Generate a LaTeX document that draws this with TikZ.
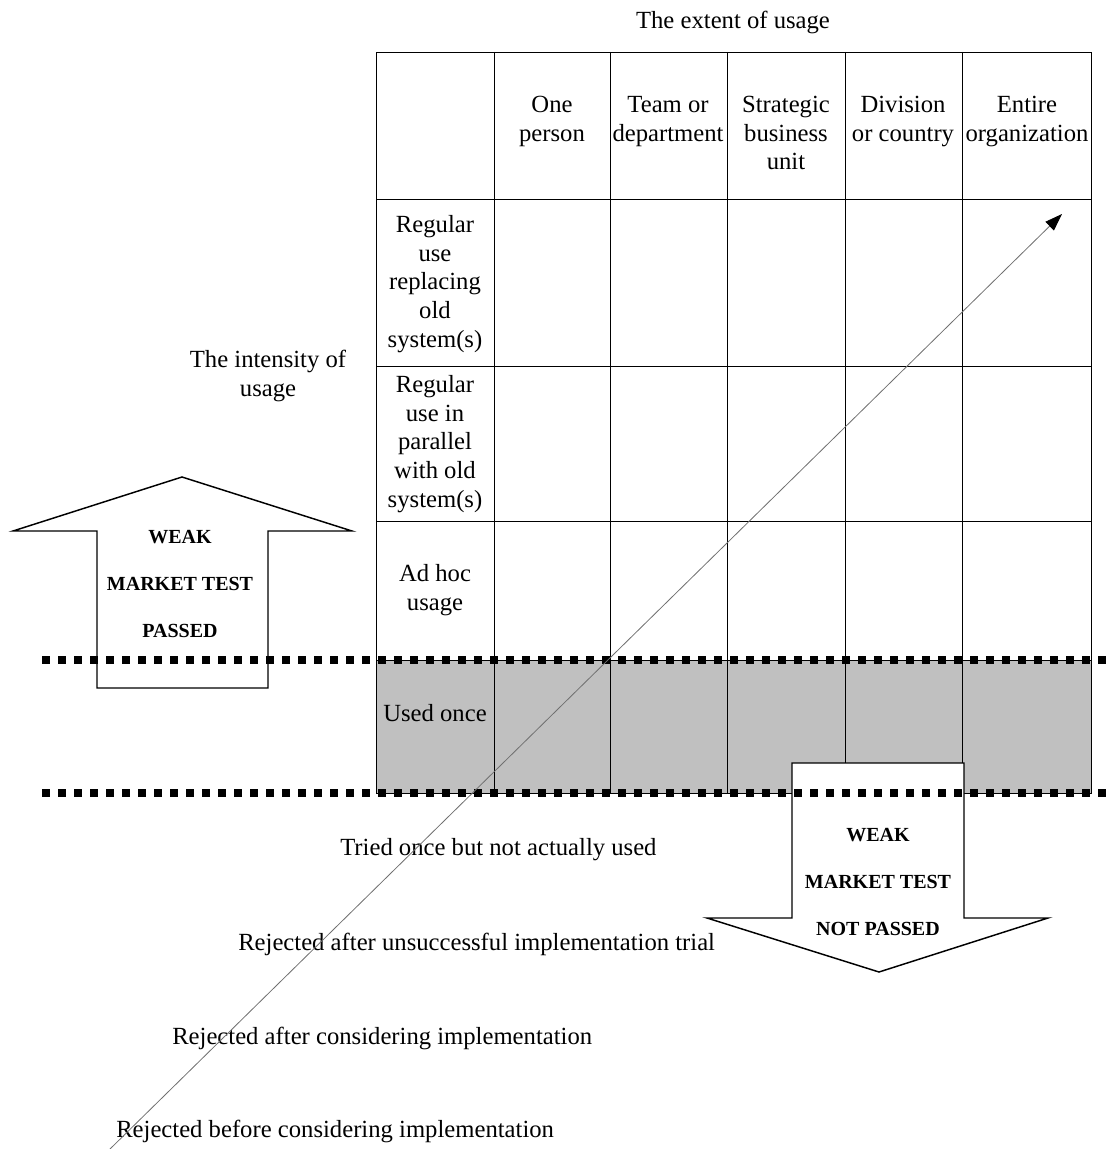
\documentclass[tikz,border=0pt]{standalone}
\usepackage{fontspec}
\setmainfont{Liberation Serif}
\usetikzlibrary{arrows.meta}
\definecolor{adpInk}{HTML}{000000}
\definecolor{adpBand}{HTML}{C0C0C0}
\definecolor{adpTrend}{HTML}{707070}
\tikzset{
  adp grid/.style={draw=adpInk, line width=0.7pt},
  adp band/.style={fill=adpBand},
  adp dots/.style={draw=adpInk, line width=6pt, dash pattern=on 6pt off 6pt},
  adp block/.style={draw=adpInk, fill=white, line width=1.1pt, line join=miter},
  adp text/.style={font=\fontsize{18.5}{21.5}\selectfont, align=center, inner sep=0pt},
  adp test/.style={font=\bfseries\fontsize{15}{35}\selectfont, align=center, inner sep=0pt},
  adp trend/.style={draw=adpTrend, line width=0.6pt},
}

\begin{document}
\begin{tikzpicture}[x=0.75pt, y=-0.75pt]
  \useasboundingbox (0,0) rectangle (1109,1149);
  % Shaded row for one-off use
  \fill[adp band] (376,660) rectangle (1091,793);
  % Table frame and rules
  \draw[adp grid] (376,52) rectangle (1091,793);
  \foreach \ry in {199,366,521,660} \draw[adp grid] (376,\ry) -- (1091,\ry);
  \foreach \cx in {494,610,727,845,962} \draw[adp grid] (\cx,52) -- (\cx,793);
  % Block arrows
  \draw[adp block] (97,688) -- (97,531) -- (13,531) -- (182,477) -- (352,531)
    -- (268,531) -- (268,688) -- cycle;
  \draw[adp block] (792,763) -- (964,763) -- (964,918) -- (1048,918) -- (879,972)
    -- (707,918) -- (792,918) -- cycle;
  % Thresholds
  \draw[adp dots] (42,660) -- (1109,660);
  \draw[adp dots] (42,793) -- (1109,793);
  % Axis titles
  \node[adp text] (extent) at (733,22) {The extent of usage};
  \node[adp text] (intensity) at (268,376) {The intensity of\\usage};
  % Column heads
  \node[adp text, anchor=north] (onePerson) at (552,96) {One\\person};
  \node[adp text, anchor=north] (team) at (668,96) {Team or\\department};
  \node[adp text, anchor=north] (sbu) at (786,96) {Strategic\\business\\unit};
  \node[adp text, anchor=north] (division) at (903,96) {Division\\or country};
  \node[adp text, anchor=north] (entire) at (1027,96) {Entire\\organization};
  % Row heads
  \node[adp text] (replacing) at (435,284) {Regular\\use\\replacing\\old\\system(s)};
  \node[adp text] (parallel) at (435,444) {Regular\\use in\\parallel\\with old\\system(s)};
  \node[adp text] (adHoc) at (435,590) {Ad hoc\\usage};
  \node[adp text] (usedOnce) at (435,713) {Used once};
  % Levels below the table
  \node[adp text, anchor=west] (tried) at (340,850) {Tried once but not actually used};
  \node[adp text, anchor=west] (rejTrial) at (238,944) {Rejected after unsuccessful implementation trial};
  \node[adp text, anchor=west] (rejAfter) at (172,1038) {Rejected after considering implementation};
  \node[adp text, anchor=west] (rejBefore) at (116,1131) {Rejected before considering implementation};
  % Arrow captions
  \node[adp test] (passed) at (180,584) {WEAK\\MARKET TEST\\PASSED};
  \node[adp test] (notPassed) at (878,882) {WEAK\\MARKET TEST\\NOT PASSED};
  % Diagonal trend
  \coordinate (trendStart) at (110,1149);
  \coordinate (trendEnd) at (1062,214);
  \draw[adp trend, -{Triangle[length=13pt, width=9pt, color=adpInk]}] (trendStart) -- (trendEnd);
\end{tikzpicture}
\end{document}
